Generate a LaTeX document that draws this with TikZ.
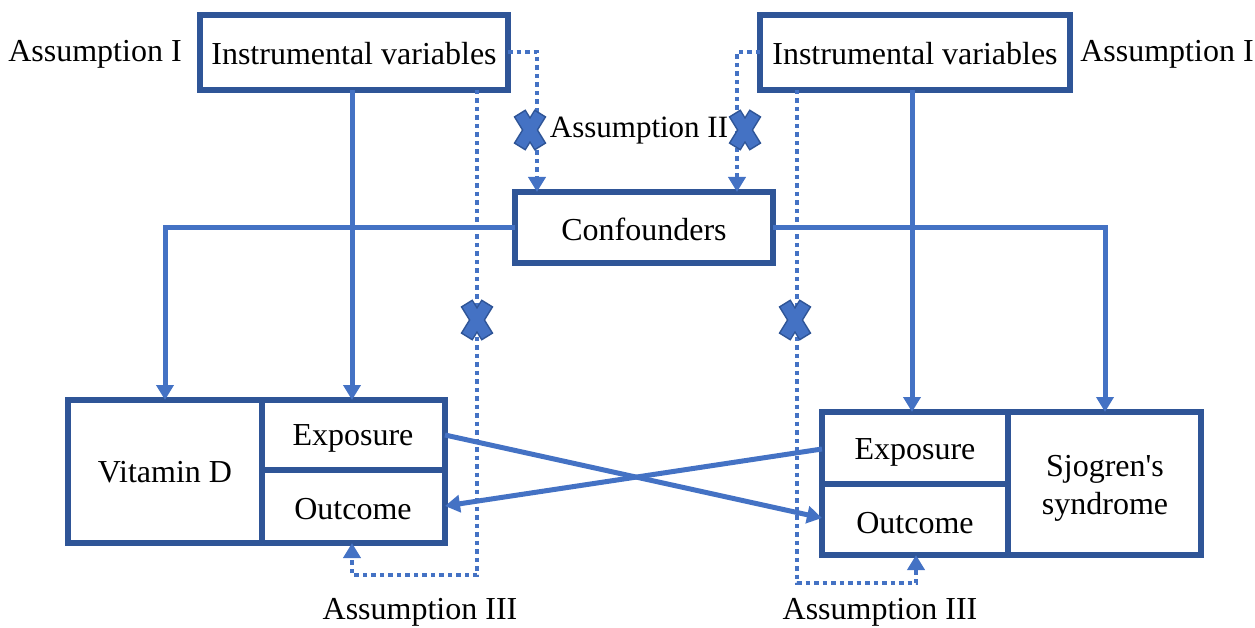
\documentclass[tikz,border=0pt]{standalone}
\usepackage{fontspec}
\setmainfont{Liberation Serif}[Ligatures=TeXOff]
\usetikzlibrary{arrows.meta}
\definecolor{lineblue}{HTML}{4472C4}
\definecolor{boxblue}{HTML}{2F5597}
\begin{document}
\begin{tikzpicture}[x=1pt,y=-1pt,
  box/.style={draw=boxblue,line width=5.5pt,fill=white},
  lbl/.style={font=\fontsize{32}{36}\selectfont,inner sep=0pt,align=center},
  conn/.style={draw=lineblue,line width=5pt,-{Triangle[width=17pt,length=15pt]}},
  dotconn/.style={draw=lineblue,line width=4.5pt,dash pattern=on 4.5pt off 4pt,-{Triangle[width=17pt,length=15pt]}},
  xstroke/.style={line cap=butt}]
\useasboundingbox (0,0) rectangle (1255,628);
% boxes
\draw[box] (200,15) rectangle (508,90);
\node[lbl] (ivL) at (354,54) {Instrumental variables};
\coordinate (ivLr) at (508,52);
\draw[box] (760,15) rectangle (1070,90);
\node[lbl] (ivR) at (915,54) {Instrumental variables};
\coordinate (ivRl) at (760,52);
\node[lbl] (a1L) at (95,54) {Assumption I};
\node[lbl] (a1R) at (1167,54) {Assumption I};
\draw[box] (515,192) rectangle (773,263);
\node[lbl] (conf) at (644,229) {Confounders};
% left composite
\draw[box] (68,400) rectangle (445,543);
\draw[box] (262,400) -- (262,543);
\draw[box] (262,470) -- (445,470);
\node[lbl] (vitd) at (165,472) {Vitamin D};
\node[lbl] (expL) at (353,438) {Exposure};
\node[lbl] (outL) at (353,509) {Outcome};
% right composite
\draw[box] (822,412) rectangle (1201,555);
\draw[box] (1008,412) -- (1008,555);
\draw[box] (822,484) -- (1008,484);
\node[lbl] (expR) at (915,452) {Exposure};
\node[lbl] (outR) at (915,523) {Outcome};
\node[lbl] (sjs) at (1105,488) {Sjogren's\\[2pt]syndrome};
\node[lbl] (a3L) at (420,612) {Assumption III};
\node[lbl] (a3R) at (880,612) {Assumption III};
% solid connectors
\draw[conn] (352,90) -- (352,400);
\draw[conn] (912,90) -- (912,412);
\draw[conn] (515,228) -- (165,228) -- (165,400);
\draw[conn] (773,228) -- (1105,228) -- (1105,412);
\draw[conn] (445,435) -- (822,518);
\draw[conn] (822,449) -- (445,506);
% dotted connectors
\draw[dotconn] (ivLr) -- (537,52) -- (537,192);
\draw[dotconn] (ivRl) -- (737,52) -- (737,192);
\draw[dotconn] (477,90) -- (477,575) -- (352,575) -- (352,543);
\draw[dotconn] (797,90) -- (797,583) -- (916,583) -- (916,555);
% X marks
\foreach \cx/\cy in {530/130,745/130,477/320,795/320}{
  \draw[boxblue,line width=14pt,xstroke] (\cx-10.5,\cy-17) -- (\cx+10.5,\cy+17) (\cx+10.5,\cy-17) -- (\cx-10.5,\cy+17);
  \draw[lineblue,line width=11pt,xstroke] (\cx-9.6,\cy-15.7) -- (\cx+9.6,\cy+15.7) (\cx+9.6,\cy-15.7) -- (\cx-9.6,\cy+15.7);
}
\node[lbl] (a2) at (639,131) {\fontsize{31}{36}\selectfont Assumption II};
\end{tikzpicture}
\end{document}
